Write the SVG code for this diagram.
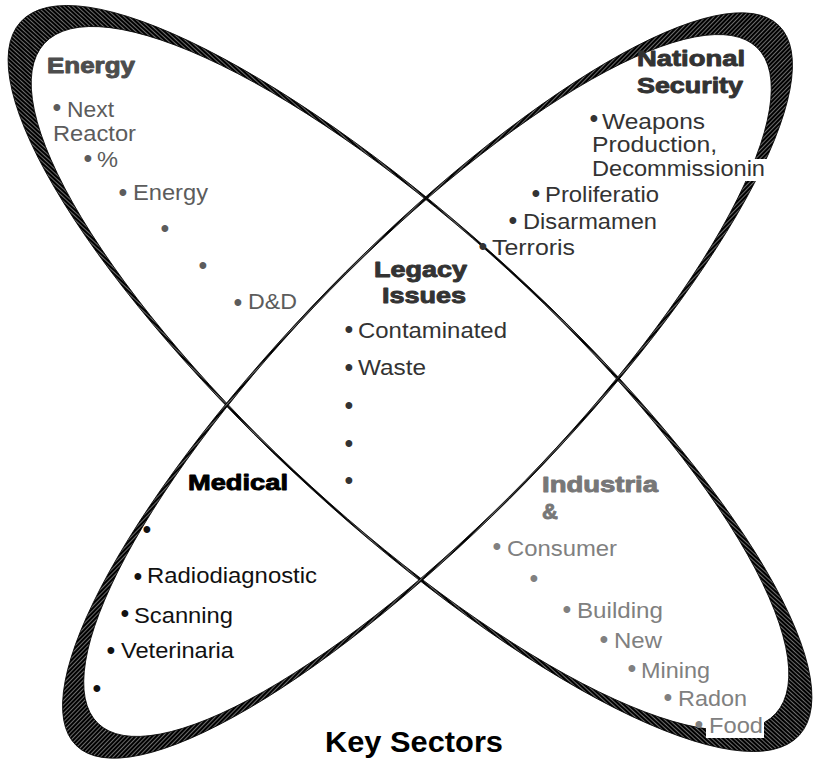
<svg xmlns="http://www.w3.org/2000/svg" width="813" height="762" viewBox="0 0 813 762">
<defs>
<pattern id="hatch" patternUnits="userSpaceOnUse" width="6" height="3">
<rect width="6" height="3" fill="#000"/>
<rect y="1" width="6" height="0.7" fill="#9a9a9a"/>
</pattern>
<style>
.ring{fill:url(#hatch);fill-rule:evenodd;stroke:#000;stroke-width:0.8}
.t{font-family:"Liberation Sans",Arial,sans-serif;font-weight:bold;font-size:22px;stroke-width:0.9px;stroke-linejoin:round}
.i{font-family:"Liberation Sans",Arial,sans-serif;font-size:22px}
.b{font-family:"Liberation Sans",Arial,sans-serif;font-size:25px;text-anchor:middle}
.bg{fill:#fff}
#energy .t{fill:#4d4d4d;stroke:#4d4d4d}
#energy .i,#energy .b{fill:#5c5c5c}
#security .t{fill:#333;stroke:#333}
#security .i,#security .b{fill:#333}
#legacy .t{fill:#333;stroke:#333}
#legacy .i,#legacy .b{fill:#333}
#medical .t{fill:#000;stroke:#000}
#medical .i,#medical .b{fill:#111}
#industrial .t{fill:#777;stroke:#777}
#industrial .i,#industrial .b{fill:#808080}
.k{font-family:"Liberation Sans",Arial,sans-serif;font-weight:bold;font-size:30px;fill:#000}
</style>
</defs>
<rect width="813" height="762" fill="#fff"/>
<g id="rings">
<g transform="translate(410 378.5) rotate(42.5)">
<path class="ring" d="M-528 0A528 148 0 1 0 528 0A528 148 0 1 0 -528 0Z M-496 0A496 146.3 0 1 0 496 0A496 146.3 0 1 0 -496 0Z"/>
</g>
<g transform="translate(427.5 385.5) rotate(-45.7)">
<path class="ring" d="M-503 0A503 138 0 1 0 503 0A503 138 0 1 0 -503 0Z M-472 0A472 136.3 0 1 0 472 0A472 136.3 0 1 0 -472 0Z"/>
</g>
</g>
<g id="energy">
<text class="t" x="47" y="73" textLength="88" lengthAdjust="spacingAndGlyphs">Energy</text>
<text class="b" x="57" y="115.5">•</text>
<text class="i" x="67" y="117" textLength="47" lengthAdjust="spacingAndGlyphs">Next</text>
<text class="i" x="53" y="141" textLength="83" lengthAdjust="spacingAndGlyphs">Reactor</text>
<text class="b" x="88" y="167">•</text>
<text class="i" x="97" y="167" textLength="21" lengthAdjust="spacingAndGlyphs">%</text>
<text class="b" x="123" y="201">•</text>
<text class="i" x="133" y="200" textLength="75" lengthAdjust="spacingAndGlyphs">Energy</text>
<text class="b" x="165" y="237">•</text>
<text class="b" x="203" y="274">•</text>
<text class="b" x="238" y="311">•</text>
<text class="i" x="248" y="309" textLength="49" lengthAdjust="spacingAndGlyphs">D&amp;D</text>
</g>
<g id="security">
<text class="t" x="637" y="66" textLength="108" lengthAdjust="spacingAndGlyphs">National</text>
<text class="t" x="637" y="93" textLength="106" lengthAdjust="spacingAndGlyphs">Security</text>
<rect class="bg" x="590" y="159" width="177" height="22"/>
<text class="b" x="594" y="127">•</text>
<text class="i" x="602" y="129" textLength="103" lengthAdjust="spacingAndGlyphs">Weapons</text>
<text class="i" x="592" y="152" textLength="125" lengthAdjust="spacingAndGlyphs">Production,</text>
<text class="i" x="592" y="176" textLength="173" lengthAdjust="spacingAndGlyphs">Decommissionin</text>
<text class="b" x="536" y="202">•</text>
<text class="i" x="545" y="202" textLength="114" lengthAdjust="spacingAndGlyphs">Proliferatio</text>
<text class="b" x="513" y="229">•</text>
<text class="i" x="523" y="229" textLength="134" lengthAdjust="spacingAndGlyphs">Disarmamen</text>
<text class="b" x="483" y="255">•</text>
<text class="i" x="492" y="255" textLength="83" lengthAdjust="spacingAndGlyphs">Terroris</text>
</g>
<g id="legacy">
<text class="t" x="374" y="277" textLength="93" lengthAdjust="spacingAndGlyphs">Legacy</text>
<text class="t" x="382" y="303" textLength="84" lengthAdjust="spacingAndGlyphs">Issues</text>
<text class="b" x="349" y="338">•</text>
<text class="i" x="358" y="338" textLength="149" lengthAdjust="spacingAndGlyphs">Contaminated</text>
<text class="b" x="349" y="376">•</text>
<text class="i" x="358" y="375" textLength="68" lengthAdjust="spacingAndGlyphs">Waste</text>
<text class="b" x="349" y="414">•</text>
<text class="b" x="349" y="452">•</text>
<text class="b" x="349" y="489">•</text>
</g>
<g id="medical">
<text class="t" x="188" y="490" textLength="100" lengthAdjust="spacingAndGlyphs">Medical</text>
<text class="b" x="147" y="538">•</text>
<text class="b" x="138" y="585">•</text>
<text class="i" x="147" y="583" textLength="170" lengthAdjust="spacingAndGlyphs">Radiodiagnostic</text>
<text class="b" x="125" y="622">•</text>
<text class="i" x="134" y="623" textLength="99" lengthAdjust="spacingAndGlyphs">Scanning</text>
<text class="b" x="111" y="659">•</text>
<text class="i" x="121" y="658" textLength="113" lengthAdjust="spacingAndGlyphs">Veterinaria</text>
<text class="b" x="97" y="697">•</text>
</g>
<g id="industrial">
<text class="t" x="542" y="492" textLength="116" lengthAdjust="spacingAndGlyphs">Industria</text>
<text class="t" x="542" y="519">&amp;</text>
<text class="b" x="497" y="555">•</text>
<text class="i" x="507" y="556" textLength="110" lengthAdjust="spacingAndGlyphs">Consumer</text>
<text class="b" x="534" y="587">•</text>
<text class="b" x="567" y="618">•</text>
<text class="i" x="577" y="618" textLength="86" lengthAdjust="spacingAndGlyphs">Building</text>
<text class="b" x="604" y="648">•</text>
<text class="i" x="614" y="648" textLength="48" lengthAdjust="spacingAndGlyphs">New</text>
<text class="b" x="632" y="677">•</text>
<text class="i" x="641" y="678" textLength="69" lengthAdjust="spacingAndGlyphs">Mining</text>
<text class="b" x="668" y="706">•</text>
<text class="i" x="678" y="706" textLength="69" lengthAdjust="spacingAndGlyphs">Radon</text>
<rect class="bg" x="706" y="715" width="58" height="23"/>
<text class="b" x="699" y="733">•</text>
<text class="i" x="709" y="733" textLength="54" lengthAdjust="spacingAndGlyphs">Food</text>
</g>
<g id="title">
<text class="k" x="325" y="752" textLength="178" lengthAdjust="spacingAndGlyphs">Key Sectors</text>
</g>
</svg>
